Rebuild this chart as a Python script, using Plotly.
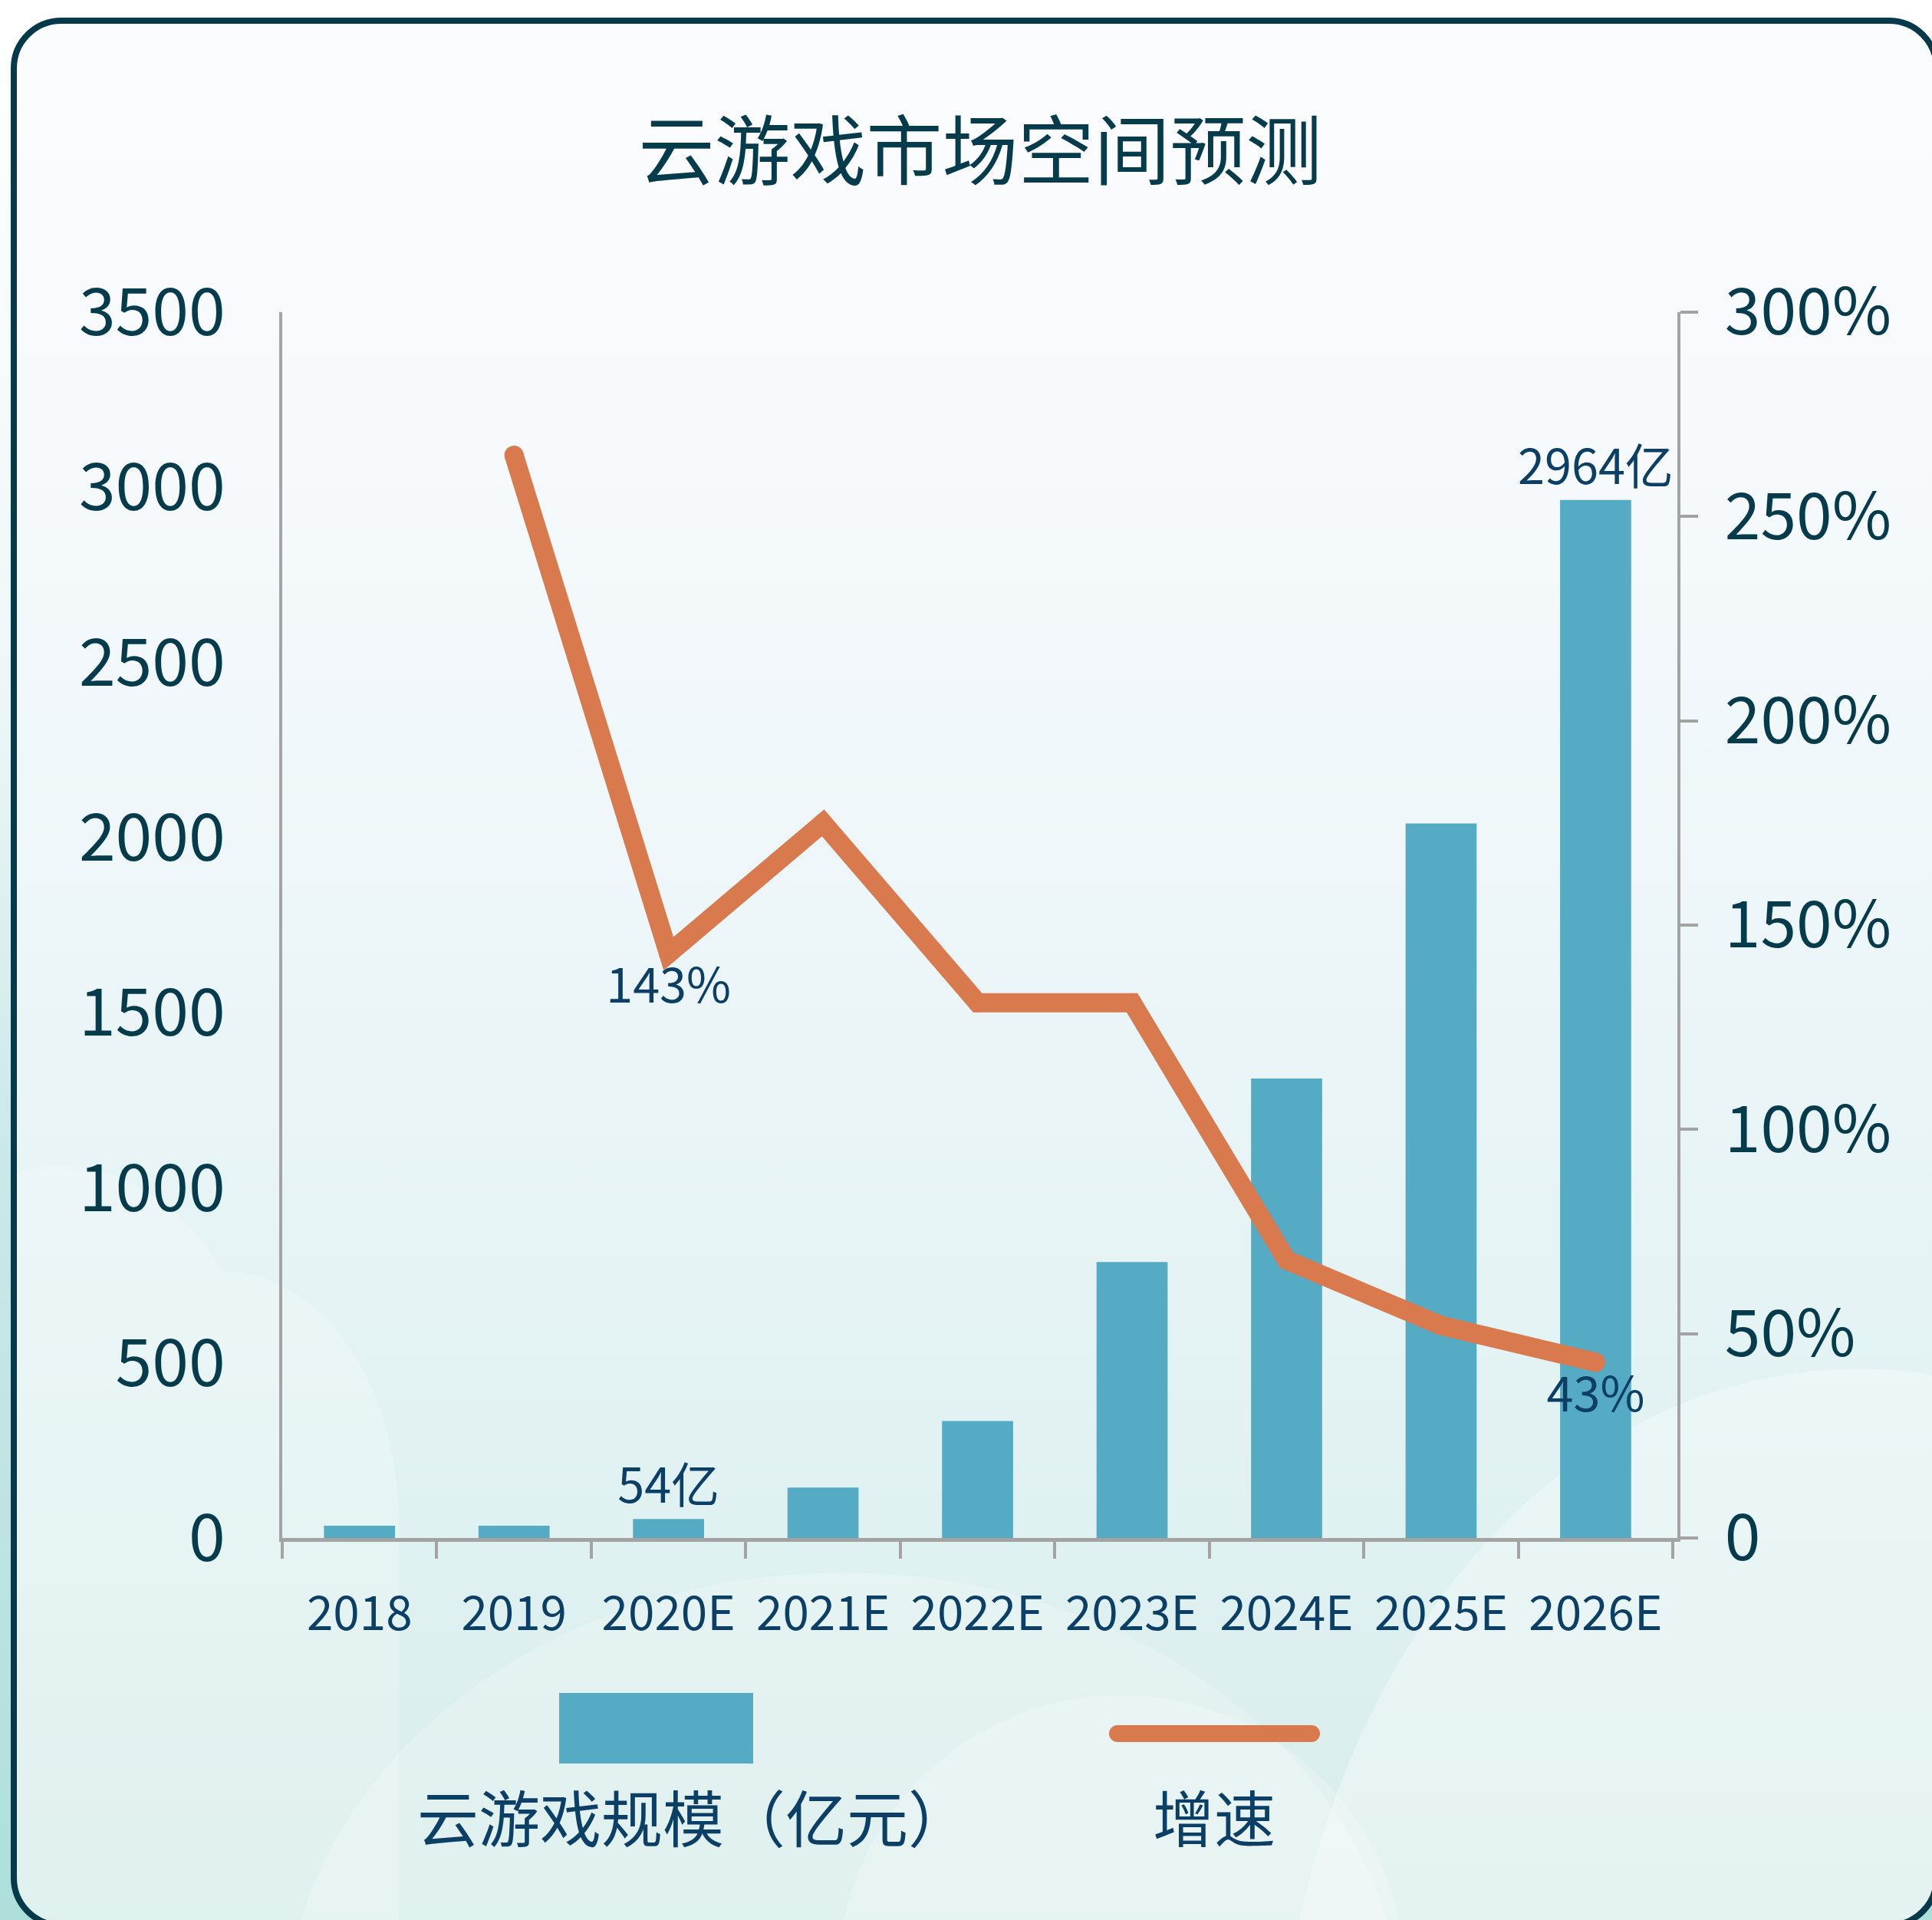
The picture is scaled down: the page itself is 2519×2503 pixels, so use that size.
import base64
import plotly.graph_objects as go

# ---------------- data ----------------
categories = ["2018", "2019", "2020E", "2021E", "2022E", "2023E", "2024E", "2025E", "2026E"]
market_size = [35, 35, 54, 144, 334, 788, 1312, 2040, 2964]          # 云游戏规模（亿元）
size_labels = ["", "", "54亿", "", "", "", "", "", "2964亿"]
growth_categories = ["2019", "2020E", "2021E", "2022E", "2023E", "2024E", "2025E", "2026E"]
growth_rate = [265, 143, 175, 131, 131, 68, 52, 43]                    # 增速 (%)
growth_labels = ["", "143%", "", "", "", "", "", "43%"]
left_ticks = [0, 500, 1000, 1500, 2000, 2500, 3000, 3500]
right_ticks = [0, 50, 100, 150, 200, 250, 300]
right_tick_text = ["0", "50%", "100%", "150%", "200%", "250%", "300%"]

# ---------------- layout constants ----------------
W, H = 2519, 2503
L, R, T, B = 368, 332, 407, 498
PW, PH = W - L - R, H - T - B

BAR = "#55AAC4"
LINE = "#D97A4E"
AXIS = "#A3A3A3"
TEAL = "#063B4B"
NAVY = "#0C3F66"
FONT = "Noto Sans CJK SC, Source Han Sans SC, sans-serif"


def px(x):
    return (x - L) / PW


def py(y):
    return (H - B - y) / PH


# ---------------- background (card) ----------------
svg = f'''<svg xmlns="http://www.w3.org/2000/svg" width="{W}" height="{H}" viewBox="0 0 {W} {H}">
<defs>
<linearGradient id="outer" gradientUnits="userSpaceOnUse" x1="0" y1="0" x2="0" y2="{H}">
 <stop offset="0" stop-color="#ffffff"/>
 <stop offset="0.35" stop-color="#eef7f8"/>
 <stop offset="0.6" stop-color="#cbe8e9"/>
 <stop offset="1" stop-color="#aedfda"/>
</linearGradient>
<linearGradient id="inner" gradientUnits="userSpaceOnUse" x1="0" y1="27" x2="0" y2="2510">
 <stop offset="0" stop-color="#fbfcfe"/>
 <stop offset="0.19" stop-color="#f7fafd"/>
 <stop offset="0.47" stop-color="#edf6f8"/>
 <stop offset="0.73" stop-color="#e2f2f3"/>
 <stop offset="1" stop-color="#d7edea"/>
</linearGradient>
<clipPath id="card"><rect x="18" y="27" width="2507" height="2483" rx="62"/></clipPath>
</defs>
<rect width="{W}" height="{H}" fill="url(#outer)"/>
<rect x="18" y="27" width="2507" height="2483" rx="62" fill="url(#inner)"/>
<g clip-path="url(#card)" fill="#ffffff">
 <path fill-opacity="0.22" d="M 10 2520 L 10 1540 C 40 1505 200 1500 290 1657 C 420 1660 520 1800 520 1990 L 520 2520 Z"/>
 <ellipse fill-opacity="0.22" cx="1100" cy="2650" rx="730" ry="600"/>
 <circle fill-opacity="0.22" cx="1462" cy="2580" r="370"/>
 <path fill-opacity="0.32" d="M 1690 2520 C 1780 2100 2050 1800 2400 1785 C 2480 1783 2520 1790 2540 1800 L 2540 2520 Z"/>
</g>
<rect x="18" y="27" width="2507" height="2483" rx="62" fill="none" stroke="#063a4a" stroke-width="8"/>
</svg>'''
bg_src = "data:image/svg+xml;base64," + base64.b64encode(svg.encode("utf-8")).decode("ascii")

# ---------------- traces ----------------
fig = go.Figure()

fig.add_trace(go.Bar(
    x=categories, y=market_size, name="云游戏规模（亿元）",
    marker=dict(color=BAR, line=dict(width=0)),
    width=0.46,
    text=size_labels, textposition="outside", constraintext="none",
    textfont=dict(family=FONT, size=63, color=NAVY),
    cliponaxis=False, yaxis="y",
))

fig.add_trace(go.Scatter(
    x=growth_categories, y=growth_rate, name="增速",
    mode="lines+markers+text",
    line=dict(color=LINE, width=25),
    marker=dict(color=LINE, size=25, line=dict(width=0)),
    text=growth_labels, textposition="bottom center",
    textfont=dict(family=FONT, size=63, color=NAVY),
    cliponaxis=False, yaxis="y2",
))

# ---------------- legend (drawn manually: swatch above label) ----------------
shapes = [
    dict(type="rect", xref="paper", yref="paper",
         x0=px(729), x1=px(982), y0=py(2299), y1=py(2207),
         fillcolor=BAR, line=dict(width=0), layer="above"),
    dict(type="rect", xref="paper", yref="paper",
         x0=px(1457), x1=px(1710), y0=py(2271), y1=py(2249),
         fillcolor=LINE, line=dict(width=0), layer="above"),
    dict(type="circle", xref="paper", yref="paper",
         x0=px(1446), x1=px(1468), y0=py(2271), y1=py(2249),
         fillcolor=LINE, line=dict(width=0), layer="above"),
    dict(type="circle", xref="paper", yref="paper",
         x0=px(1699), x1=px(1721), y0=py(2271), y1=py(2249),
         fillcolor=LINE, line=dict(width=0), layer="above"),
]
annotations = [
    dict(text="云游戏规模（亿元）", xref="paper", yref="paper", x=px(904), y=py(2366),
         xanchor="center", yanchor="middle", showarrow=False,
         font=dict(family=FONT, size=80, color=NAVY)),
    dict(text="增速", xref="paper", yref="paper", x=px(1583), y=py(2366),
         xanchor="center", yanchor="middle", showarrow=False,
         font=dict(family=FONT, size=80, color=NAVY)),
]

fig.update_layout(
    template="none",
    width=W, height=H,
    margin=dict(l=L, r=R, t=T, b=B, pad=0),
    paper_bgcolor="rgba(0,0,0,0)",
    plot_bgcolor="rgba(0,0,0,0)",
    showlegend=False,
    font=dict(family=FONT, color=TEAL),
    title=dict(text="云游戏市场空间预测", x=1278 / W, xanchor="center",
               y=1 - 198 / H, yanchor="middle", xref="container", yref="container",
               font=dict(family=FONT, size=99, color=TEAL)),
    bargap=0.54,
    xaxis=dict(
        type="category", categoryorder="array", categoryarray=categories,
        showgrid=False, zeroline=False,
        showline=True, linecolor=AXIS, linewidth=5,
        ticks="outside", tickson="boundaries", ticklen=22, tickwidth=4, tickcolor=AXIS,
        tickfont=dict(family=FONT, size=62, color=NAVY),
        ticklabelstandoff=41, automargin=False,
    ),
    yaxis=dict(
        range=[0, 3500], tickvals=left_ticks, ticktext=[str(v) for v in left_ticks],
        showgrid=False, zeroline=False,
        showline=True, linecolor=AXIS, linewidth=4,
        ticks="", tickfont=dict(family=FONT, size=86, color=TEAL),
        ticklabelstandoff=53, automargin=False,
    ),
    yaxis2=dict(
        overlaying="y", side="right", anchor="x",
        range=[0, 300], tickvals=right_ticks, ticktext=right_tick_text,
        showgrid=False, zeroline=False,
        showline=True, linecolor=AXIS, linewidth=4,
        ticks="outside", ticklen=23, tickwidth=4, tickcolor=AXIS,
        tickfont=dict(family=FONT, size=84, color=TEAL),
        ticklabelstandoff=18, automargin=False,
    ),
    shapes=shapes,
    annotations=annotations,
    images=[dict(source=bg_src, xref="paper", yref="paper",
                 x=-L / PW, y=1 + T / PH, sizex=W / PW, sizey=H / PH,
                 xanchor="left", yanchor="top", sizing="stretch", layer="below")],
)

fig.write_html("out.html",
               config={"displayModeBar": False},
               post_script="document.body.style.margin='0px';document.body.style.overflow='hidden';")
